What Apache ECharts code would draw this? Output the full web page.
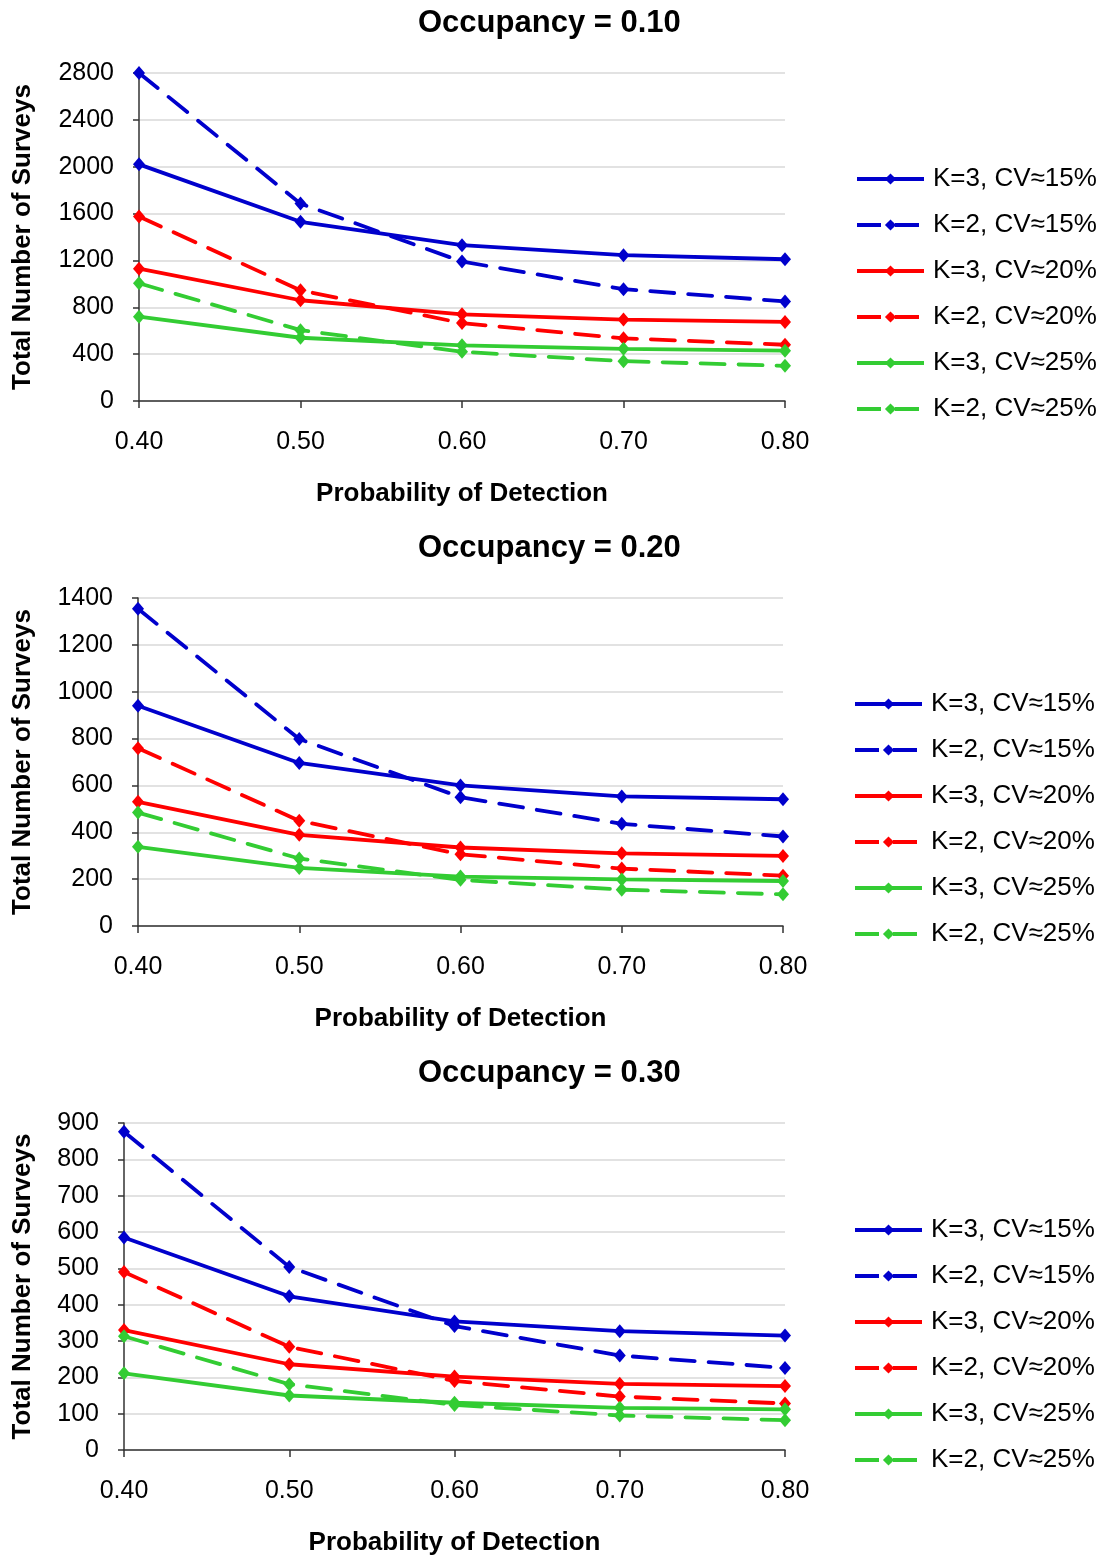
<!DOCTYPE html>
<html>
<head>
<meta charset="utf-8">
<script src="https://cdn.jsdelivr.net/npm/echarts@6/dist/echarts.min.js"></script>
<style>
html,body{margin:0;padding:0;background:#fff;}
#main{width:1108px;height:1558px;}
</style>
</head>
<body>
<div id="main"></div>
<script>
// ---- data ----
const categories = ['0.40', '0.50', '0.60', '0.70', '0.80'];
const seriesNames = ['K=3, CV≈15%', 'K=2, CV≈15%', 'K=3, CV≈20%', 'K=2, CV≈20%', 'K=3, CV≈25%', 'K=2, CV≈25%'];
const panelTitles = ['Occupancy = 0.10', 'Occupancy = 0.20', 'Occupancy = 0.30'];
const yMax = [2800, 1400, 900];
const yInterval = [400, 200, 100];

// Occupancy = 0.10
const occ10_k3cv15 = [2020, 1530, 1330, 1245, 1210];
const occ10_k2cv15 = [2800, 1685, 1190, 955, 850];
const occ10_k3cv20 = [1130, 860, 740, 695, 675];
const occ10_k2cv20 = [1575, 945, 665, 535, 480];
const occ10_k3cv25 = [720, 540, 475, 445, 430];
const occ10_k2cv25 = [1005, 605, 420, 340, 300];
// Occupancy = 0.20
const occ20_k3cv15 = [940, 696, 600, 553, 541];
const occ20_k2cv15 = [1354, 798, 550, 436, 382];
const occ20_k3cv20 = [530, 389, 335, 310, 299];
const occ20_k2cv20 = [759, 449, 306, 245, 215];
const occ20_k3cv25 = [338, 248, 211, 199, 192];
const occ20_k2cv25 = [484, 288, 197, 155, 135];
// Occupancy = 0.30
const occ30_k3cv15 = [585, 423, 354, 327, 315];
const occ30_k2cv15 = [876, 504, 341, 260, 226];
const occ30_k3cv20 = [330, 236, 202, 182, 176];
const occ30_k2cv20 = [490, 284, 190, 147, 128];
const occ30_k3cv25 = [211, 150, 130, 116, 112];
const occ30_k2cv25 = [313, 181, 124, 95, 82];

const panelData = [
  [occ10_k3cv15, occ10_k2cv15, occ10_k3cv20, occ10_k2cv20, occ10_k3cv25, occ10_k2cv25],
  [occ20_k3cv15, occ20_k2cv15, occ20_k3cv20, occ20_k2cv20, occ20_k3cv25, occ20_k2cv25],
  [occ30_k3cv15, occ30_k2cv15, occ30_k3cv20, occ30_k2cv20, occ30_k3cv25, occ30_k2cv25]
];

// ---- styling / layout ----
const FONT = "'Liberation Sans', Arial, sans-serif";
const colors = ['#0000CC', '#0000CC', '#FF0000', '#FF0000', '#33CC33', '#33CC33'];
const dashed = [false, true, false, true, false, true];
const grids = [
  {left: 139, right: 323, top: 73, height: 328},
  {left: 138, right: 325, top: 598, height: 328},
  {left: 124, right: 323, top: 1123, height: 327}
];
const titleTops = [3, 528, 1053];
const titleLefts = [413, 413, 413];
const legendTops = [166, 691, 1217];
const legendLefts = [855, 853, 853];

const option = {
  animation: false,
  backgroundColor: '#ffffff',
  textStyle: {fontFamily: FONT},
  title: panelTitles.map((t, i) => ({
    text: t, left: titleLefts[i], top: titleTops[i],
    textStyle: {fontFamily: FONT, fontSize: 31, fontWeight: 'bold', color: '#000'}
  })),
  legend: grids.map((g, i) => ({
    data: seriesNames, orient: 'vertical', left: legendLefts[i], top: legendTops[i],
    padding: 0,
    itemWidth: 67, itemHeight: 14, itemGap: 20,
    textStyle: {fontFamily: FONT, fontSize: 26, color: '#000', lineHeight: 26, padding: [0, 0, 0, 4]},
    lineStyle: {width: 4, cap: 'butt'},
    selectedMode: false
  })),
  grid: grids.map(g => Object.assign({containLabel: false}, g)),
  xAxis: grids.map((g, i) => ({
    type: 'category', gridIndex: i, data: categories, boundaryGap: false,
    name: 'Probability of Detection', nameLocation: 'middle', nameGap: 80,
    nameTextStyle: {fontFamily: FONT, fontSize: 26, fontWeight: 'bold', color: '#000'},
    axisLine: {show: true, lineStyle: {color: '#333', width: 1.5}},
    axisTick: {show: true, length: 7, lineStyle: {color: '#333', width: 1.5}},
    axisLabel: {fontFamily: FONT, fontSize: 25, color: '#000', margin: 29},
    splitLine: {show: false}
  })),
  yAxis: grids.map((g, i) => ({
    type: 'value', gridIndex: i, min: 0, max: yMax[i], interval: yInterval[i],
    name: 'Total Number of Surveys', nameLocation: 'middle', nameGap: g.left - 36,
    nameTextStyle: {fontFamily: FONT, fontSize: 26, fontWeight: 'bold', color: '#000'},
    axisLine: {show: true, lineStyle: {color: '#333', width: 1.5}},
    axisTick: {show: true, length: 6, lineStyle: {color: '#333', width: 1.5}},
    axisLabel: {fontFamily: FONT, fontSize: 25, color: '#000', margin: 25, formatter: v => String(v)},
    splitLine: {show: true, lineStyle: {color: '#D9D9D9', width: 1.5}}
  })),
  series: []
};

panelData.forEach((arrs, p) => {
  arrs.forEach((vals, s) => {
    option.series.push({
      type: 'line', name: seriesNames[s], xAxisIndex: p, yAxisIndex: p,
      data: vals, symbol: 'diamond', symbolSize: [12, 14], showSymbol: true,
      color: colors[s],
      itemStyle: {color: colors[s]},
      lineStyle: {color: colors[s], width: 3.8, cap: 'round', type: dashed[s] ? [24, 14] : 'solid'},
      emphasis: {disabled: true}
    });
  });
});

const chart = echarts.init(document.getElementById('main'), null, {renderer: 'canvas'});
chart.setOption(option);
</script>
</body>
</html>
